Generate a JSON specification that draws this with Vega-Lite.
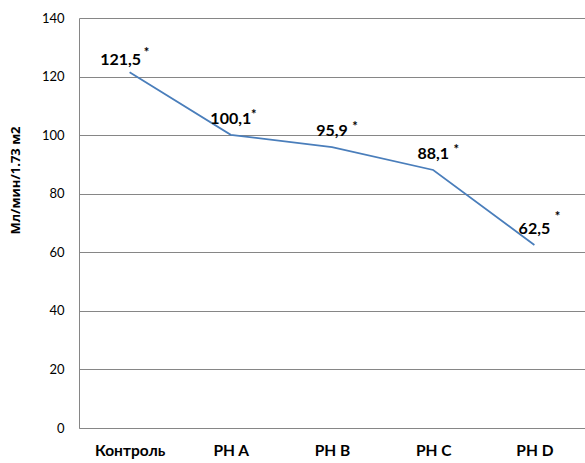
{
  "$schema": "https://vega.github.io/schema/vega-lite/v6.json",
  "autosize": {"type": "none"},
  "padding": {"left": 79, "top": 18, "right": 0, "bottom": 35},
  "width": 506,
  "height": 410,
  "background": "white",
  "config": {
    "font": "Lato",
    "view": {"stroke": null}
  },
  "data": {
    "values": [
      {"group": "Контроль", "value": 121.5, "label": "121,5"},
      {"group": "PH A", "value": 100.1, "label": "100,1"},
      {"group": "PH B", "value": 95.9, "label": "95,9"},
      {"group": "PH C", "value": 88.1, "label": "88,1"},
      {"group": "PH D", "value": 62.5, "label": "62,5"}
    ]
  },
  "encoding": {
    "x": {
      "field": "group",
      "type": "nominal",
      "sort": null,
      "scale": {"type": "point", "padding": 0.5},
      "axis": {
        "title": null,
        "labelAngle": 0,
        "labelFont": "Lato",
        "labelFontSize": 15.5,
        "labelFontWeight": "bold",
        "labelColor": "#000000",
        "labelPadding": 15,
        "labelBaseline": "top",
        "ticks": false,
        "domainColor": "#868686",
        "domainWidth": 1,
        "grid": false
      }
    },
    "y": {
      "field": "value",
      "type": "quantitative",
      "scale": {"domain": [0, 140], "nice": false, "zero": true},
      "axis": {
        "values": [0, 20, 40, 60, 80, 100, 120, 140],
        "title": "Мл/мин/1.73 м2",
        "titleFont": "Open Sans",
        "titleFontSize": 13,
        "titleFontWeight": "bold",
        "titleColor": "#000000",
        "titleAngle": -90,
        "titleX": -64,
        "titleY": 162,
        "titleAlign": "center",
        "titleBaseline": "middle",
        "labelFont": "Lato",
        "labelFontSize": 13,
        "labelColor": "#000000",
        "labelPadding": 15,
        "ticks": false,
        "grid": true,
        "gridColor": "#868686",
        "gridWidth": 1,
        "domainColor": "#868686",
        "domainWidth": 1
      }
    }
  },
  "layer": [
    {
      "mark": {"type": "line", "color": "#4a7ebb", "strokeWidth": 1.75}
    },
    {
      "transform": [{"filter": "datum.group !== 'Контроль'"}],
      "mark": {"type": "text", "font": "Lato", "fontSize": 16, "fontWeight": "bold", "color": "#000000", "align": "center", "baseline": "alphabetic", "dy": -11},
      "encoding": {"text": {"field": "label"}}
    },
    {
      "transform": [{"filter": "datum.group === 'Контроль'"}],
      "mark": {"type": "text", "font": "Lato", "fontSize": 16, "fontWeight": "bold", "color": "#000000", "align": "center", "baseline": "alphabetic", "dx": -9, "dy": -7},
      "encoding": {"text": {"field": "label"}}
    },
    {
      "transform": [{"filter": "datum.group === 'PH A' || datum.group === 'PH B' || datum.group === 'PH C'"}],
      "mark": {"type": "text", "font": "Lato", "fontSize": 13, "fontWeight": "bold", "color": "#000000", "align": "center", "baseline": "middle", "dx": 23, "dy": -20, "text": "*"},
      "encoding": {}
    },
    {
      "transform": [{"filter": "datum.group === 'Контроль'"}],
      "mark": {"type": "text", "font": "Lato", "fontSize": 13, "fontWeight": "bold", "color": "#000000", "align": "center", "baseline": "middle", "dx": 17, "dy": -19, "text": "*"},
      "encoding": {}
    },
    {
      "transform": [{"filter": "datum.group === 'PH D'"}],
      "mark": {"type": "text", "font": "Lato", "fontSize": 13, "fontWeight": "bold", "color": "#000000", "align": "center", "baseline": "middle", "dx": 23, "dy": -28, "text": "*"},
      "encoding": {}
    }
  ]
}
